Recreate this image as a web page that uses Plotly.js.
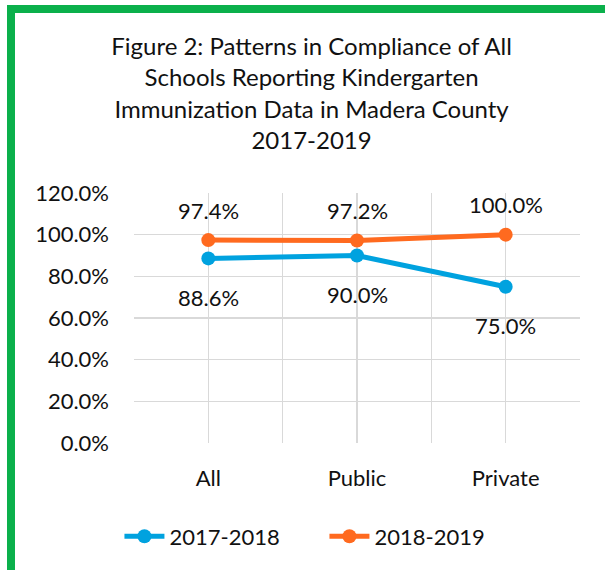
<!DOCTYPE html>
<html>
<head>
<meta charset="utf-8">
<script src="https://cdn.plot.ly/plotly-3.0.1.min.js"></script>
<style>
html,body{margin:0;padding:0;background:#fff;}
#frame{position:absolute;left:7px;top:5px;width:598px;height:565px;border-top:8px solid #0BB04B;border-left:8px solid #0BB04B;box-sizing:border-box;}
#chart{position:absolute;left:0;top:0;width:605px;height:570px;}
</style>
</head>
<body>
<div id="frame"></div>
<div id="chart"></div>
<script>
const categories = ["All", "Public", "Private"];
const series1Name = "2017-2018";
const series1 = [0.886, 0.900, 0.750];
const series2Name = "2018-2019";
const series2 = [0.974, 0.972, 1.000];
const yTicks = [0, 0.2, 0.4, 0.6, 0.8, 1.0, 1.2];

const FONT = "Lato, 'Open Sans', sans-serif";
const blue = "#00A2DF";
const orange = "#FF6A1F";

function fmt(v){ return (v*100).toFixed(1) + "%"; }

const traces = [
  {
    x: categories, y: series1, name: series1Name, type: "scatter",
    mode: "lines+markers",
    line: {color: blue, width: 5},
    marker: {color: blue, size: 14},
    cliponaxis: false
  },
  {
    x: categories, y: series2, name: series2Name, type: "scatter",
    mode: "lines+markers",
    line: {color: orange, width: 5},
    marker: {color: orange, size: 14},
    cliponaxis: false
  },
  {
    x: [0], y: [0], xaxis: "x2", yaxis: "y", showlegend: false, hoverinfo: "skip",
    mode: "markers", marker: {opacity: 0}
  }
];

const labelFont = {family: FONT, size: 22, color: "#111"};
const annotations = [];
categories.forEach((c, i) => {
  annotations.push({x: c, y: series1[i], xref: "x", yref: "y", text: fmt(series1[i]),
    showarrow: false, yshift: -39, font: labelFont});
  annotations.push({x: c, y: series2[i], xref: "x", yref: "y", text: fmt(series2[i]),
    showarrow: false, yshift: 30, font: labelFont});
});

const layout = {
  width: 605, height: 570,
  paper_bgcolor: "rgba(0,0,0,0)", plot_bgcolor: "#fff",
  margin: {l: 134, r: 25, t: 193, b: 127},
  font: {family: FONT, color: "#111"},
  title: {
    text: "Figure 2: Patterns in Compliance of All<br>Schools Reporting Kindergarten<br>Immunization Data in Madera County<br>2017-2019",
    font: {family: FONT, size: 24, color: "#111"},
    x: 0.515, xanchor: "center", y: 0.903, yanchor: "top"
  },
  annotations: annotations,
  xaxis: {
    type: "category", range: [-0.5, 2.5],
    showgrid: true, gridcolor: "#D9D9D9", gridwidth: 1.5,
    showline: false, zeroline: false, ticks: "",
    tickfont: {family: FONT, size: 22, color: "#111"},
    ticklabelstandoff: 20
  },
  xaxis2: {
    overlaying: "x", range: [-0.5, 2.5], tick0: -0.5, dtick: 1,
    showgrid: true, gridcolor: "#D9D9D9", gridwidth: 1.5,
    showticklabels: false, zeroline: false, showline: false, ticks: ""
  },
  yaxis: {
    range: [0, 1.2], tickvals: yTicks, ticktext: yTicks.map(fmt),
    showgrid: true, gridcolor: "#D9D9D9", gridwidth: 1.5,
    zeroline: false, showline: false, ticks: "",
    tickfont: {family: FONT, size: 22, color: "#111"},
    ticklabelstandoff: 24
  },
  legend: {
    orientation: "h", x: 0.427, xanchor: "center", y: -0.29, yanchor: "top",
    font: {family: FONT, size: 22, color: "#111"},
    itemwidth: 40, entrywidth: 150
  },
  showlegend: true
};

Plotly.newPlot("chart", traces, layout, {displayModeBar: false, staticPlot: true});
</script>
</body>
</html>
